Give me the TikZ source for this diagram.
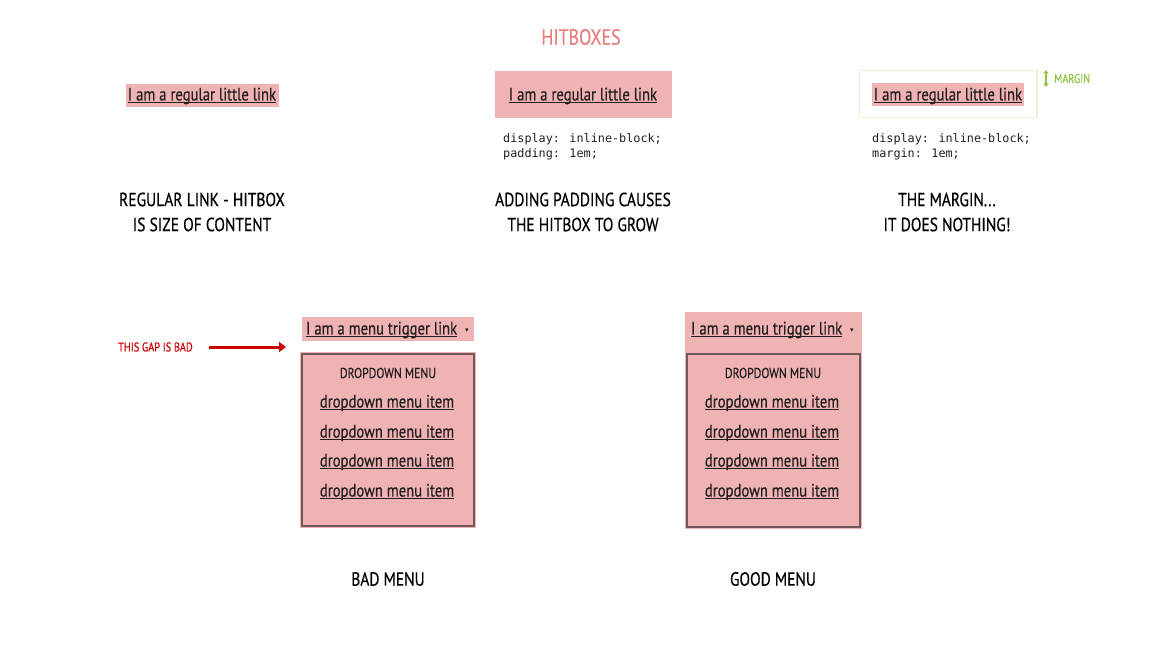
\documentclass[tikz,border=0pt]{standalone}
\usepackage{fontspec}
\setmainfont[FakeStretch=0.815,FakeBold=0.5]{PT Sans}
\newfontfamily\codefont{DejaVu Sans Mono}
\newfontfamily\symfont{DejaVu Sans}
\usetikzlibrary{arrows.meta}
\definecolor{pinkbox}{RGB}{240,179,179}
\definecolor{titlec}{RGB}{232,128,128}
\definecolor{inkc}{RGB}{35,31,32}
\definecolor{greenc}{RGB}{141,198,63}
\definecolor{marginc}{RGB}{232,240,218}
\definecolor{redc}{RGB}{204,0,0}
\definecolor{borderc}{RGB}{112,88,88}
\newcommand\lnk[1]{\setbox0\hbox{#1}\leavevmode\rlap{\copy0}\rule[-2.4pt]{\wd0}{1pt}}
\newcommand\ddarrow{\raisebox{2pt}{\symfont\fontsize{7}{8}\selectfont ▾}}
\tikzset{
  linktext/.style={inner sep=0pt, text=inkc, font=\fontsize{18}{21}\selectfont},
  caption/.style={inner sep=0pt, text=black, align=center, font=\fontsize{19}{25}\selectfont},
  code/.style={inner sep=0pt, anchor=north west, align=left, text=inkc, font=\codefont\fontsize{11.8}{15}\selectfont},
  ddhead/.style={inner sep=0pt, text=inkc, font=\fontsize{14.4}{16}\selectfont},
  pinkfill/.style={fill=pinkbox, draw=none},
  ddborder/.style={draw=borderc, line width=2pt},
}
\begin{document}
\begin{tikzpicture}[x=1pt,y=-1pt]
\useasboundingbox[fill=white] (0,0) rectangle (1159,660);

\node[inner sep=0pt, text=titlec, font=\fontsize{22}{24}\selectfont] (title) at (581,37) {HITBOXES};

% column 1
\fill[pinkbox] (126,84) rectangle (279,107);
\node[linktext] (l1) at (202,96) {\lnk{I am a regular little link}};
\node[caption] (c1) at (202,212) {REGULAR LINK - HITBOX\\IS SIZE OF CONTENT};

% column 2
\fill[pinkbox] (495,71) rectangle (672,118);
\node[linktext] (l2) at (583,96) {\lnk{I am a regular little link}};
\node[code] (code2) at (503,133.5) {display: inline-block;\\padding: 1em;};
\node[caption] (c2) at (583,212) {ADDING PADDING CAUSES\\THE HITBOX TO GROW};

% column 3
\draw[marginc, line width=1.5pt] (859.5,70.5) rectangle (1037,117.5);
\fill[pinkbox] (872,83) rectangle (1024,106);
\node[linktext] (l3) at (948,96) {\lnk{I am a regular little link}};
\node[code] (code3) at (872,133.5) {display: inline-block;\\margin: 1em;};
\node[caption] (c3) at (947,212) {THE MARGIN...\\IT DOES NOTHING!};
\coordinate (mtop) at (1046,70);
\coordinate (mbot) at (1046,87);
\draw[greenc, line width=1.6pt, {Triangle[length=3.5pt,width=5pt]}-{Triangle[length=3.5pt,width=5pt]}] (mtop) -- (mbot);
\node[inner sep=0pt, anchor=west, text=greenc, font=\fontsize{12.6}{14}\selectfont] (mlabel) at (1054,78.5) {MARGIN};

% bad menu
\fill[pinkbox] (302,317) rectangle (474,341);
\node[linktext, anchor=west] (t1) at (306,330) {\lnk{I am a menu trigger link}\hspace{8pt}\ddarrow};
\fill[pinkbox] (300,352) rectangle (476,528);
\draw[ddborder] (302,354) rectangle (474,526);
\node[ddhead] (dh1) at (388,373) {DROPDOWN MENU};
\node[linktext] (a1) at (387,403) {\lnk{dropdown menu item}};
\node[linktext] (a2) at (387,433) {\lnk{dropdown menu item}};
\node[linktext] (a3) at (387,462) {\lnk{dropdown menu item}};
\node[linktext] (a4) at (387,492) {\lnk{dropdown menu item}};
\node[caption] (bad) at (388,579) {BAD MENU};

\node[inner sep=0pt, anchor=west, text=redc, font=\fontsize{12.6}{14}\selectfont] (gap) at (118,347) {THIS GAP IS BAD};
\coordinate (gapstart) at (209,347);
\coordinate (gapend) at (286,347);
\draw[redc, line width=3pt, -{Triangle[length=7pt,width=10pt]}] (gapstart) -- (gapend);

% good menu
\fill[pinkbox] (685,312) rectangle (862,529);
\node[linktext, anchor=west] (t2) at (691,330) {\lnk{I am a menu trigger link}\hspace{8pt}\ddarrow};
\draw[ddborder] (687,354) rectangle (860,527);
\node[ddhead] (dh2) at (773,373) {DROPDOWN MENU};
\node[linktext] (b1) at (772,403) {\lnk{dropdown menu item}};
\node[linktext] (b2) at (772,433) {\lnk{dropdown menu item}};
\node[linktext] (b3) at (772,462) {\lnk{dropdown menu item}};
\node[linktext] (b4) at (772,492) {\lnk{dropdown menu item}};
\node[caption] (good) at (773,579) {GOOD MENU};
\end{tikzpicture}
\end{document}
